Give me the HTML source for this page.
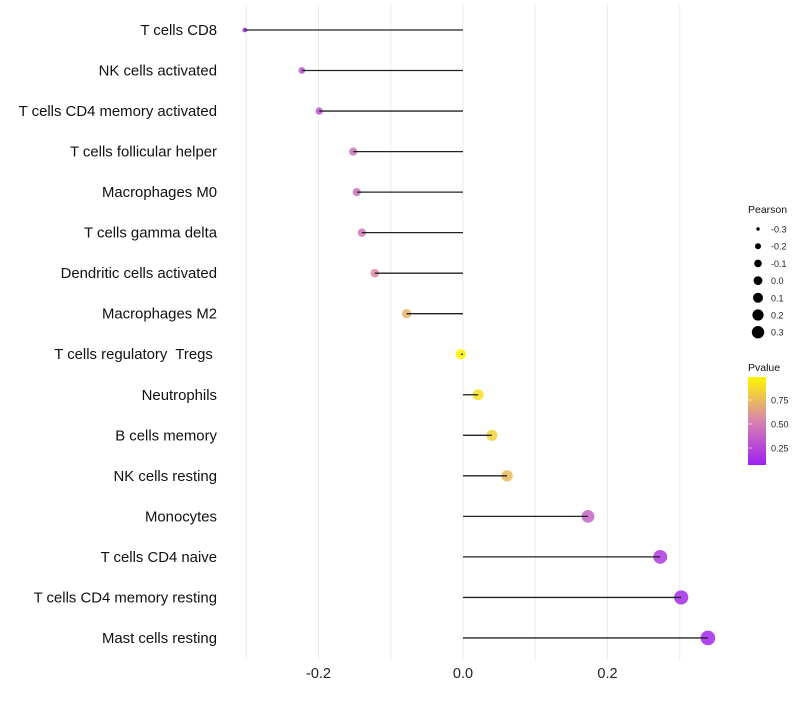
<!DOCTYPE html>
<html><head><meta charset="utf-8"><style>
body{margin:0;background:#fff;font-family:"Liberation Sans",sans-serif}
</style></head><body>
<svg id="chart" width="800" height="700" xmlns="http://www.w3.org/2000/svg" font-family="Liberation Sans, sans-serif">
<defs><linearGradient id="pg" x1="0" y1="1" x2="0" y2="0">
<stop offset="0" stop-color="#A020F0"/><stop offset="0.5" stop-color="#D883B0"/><stop offset="1" stop-color="#FFF700"/></linearGradient></defs>
<g id="grid"></g><g id="marks"></g><g id="labels"></g><g id="legend"></g>
</svg>
<script>
const categories=["T cells CD8","NK cells activated","T cells CD4 memory activated","T cells follicular helper","Macrophages M0","T cells gamma delta","Dendritic cells activated","Macrophages M2","T cells regulatory  Tregs ","Neutrophils","B cells memory","NK cells resting","Monocytes","T cells CD4 naive","T cells CD4 memory resting","Mast cells resting"];
const pearson=[-0.302,-0.223,-0.199,-0.152,-0.147,-0.140,-0.122,-0.078,-0.003,0.021,0.040,0.061,0.173,0.273,0.302,0.339];
const pvalue=[0.1,0.3,0.3,0.45,0.45,0.47,0.55,0.72,0.98,0.9,0.85,0.75,0.38,0.18,0.12,0.1];
const xTicks=[-0.2,0.0,0.2];
const xTickLabels=["-0.2","0.0","0.2"];
const gridVals=[-0.3,-0.2,-0.1,0,0.1,0.2,0.3];
const sizeLegend=[-0.3,-0.2,-0.1,0.0,0.1,0.2,0.3];
const sizeLegendLabels=["-0.3","-0.2","-0.1","0.0","0.1","0.2","0.3"];
const pLegend=[0.75,0.5,0.25];
const pLegendLabels=["0.75","0.50","0.25"];
const NS="http://www.w3.org/2000/svg";
const x=v=>463+v*722.5;
const y=i=>30+i*40.53;
const r=v=>Math.sqrt(5+(53.3-5)*Math.max(0,(v+0.31))/0.65);
function lerp(a,b,t){return a.map((c,i)=>Math.round(c+(b[i]-c)*t));}
function col(p){const lo=[160,32,240],mid=[216,131,176],hi=[255,247,0];
 const t=Math.min(1,Math.max(0,(p-0.07)/0.92));
 const c=t<0.5?lerp(lo,mid,t*2):lerp(mid,hi,(t-0.5)*2);return `rgb(${c})`;}
function mk(tag,attrs,parent,txt){const e=document.createElementNS(NS,tag);for(const k in attrs)e.setAttribute(k,attrs[k]);if(txt!=null)e.textContent=txt;document.getElementById(parent).appendChild(e);return e;}
gridVals.forEach(v=>{const e=mk('line',{x1:x(v),x2:x(v),y1:5,y2:660,stroke:'#ebebeb','stroke-width':1},'grid');

});
categories.forEach((c,i)=>{
 const t=mk('text',{x:217,y:y(i)+5,'text-anchor':'end','font-size':14.9,fill:'#111','xml:space':'preserve'},'labels',c);
 t.style.whiteSpace='pre';
 
 
 const ci=mk('circle',{cx:x(pearson[i]),cy:y(i),r:r(pearson[i]),fill:col(pvalue[i]),'fill-opacity':0.85},'marks');
 
 
});
categories.forEach((c,i)=>{
 const l=mk('line',{x1:x(0),x2:x(pearson[i]),y1:y(i),y2:y(i),stroke:'#222','stroke-width':1.3},'marks');
 
 
});
xTicks.forEach((v,i)=>{const t=mk('text',{x:x(v),y:678,'text-anchor':'middle','font-size':14.5,fill:'#222'},'labels',xTickLabels[i]);

});
let e=mk('text',{x:748,y:213,'font-size':10.5,fill:'#111'},'legend','Pearson');


sizeLegend.forEach((v,i)=>{const cy=229+i*17.2;
 const c=mk('circle',{cx:758,cy:cy,r:[1.7,3,3.8,4.4,5,5.6,6.2][i],fill:'#000'},'legend');
 
 
 const t=mk('text',{x:771,y:cy+3.5,'font-size':9,fill:'#222'},'legend',sizeLegendLabels[i]);
 
 });
e=mk('text',{x:748,y:371,'font-size':10.5,fill:'#111'},'legend','Pvalue');


e=mk('rect',{x:748,y:377,width:18,height:88,fill:'url(#pg)'},'legend');


pLegend.forEach((v,i)=>{const yy=400+i*24;
 const tk=mk('line',{x1:748,x2:752,y1:yy,y2:yy,stroke:'#fff','stroke-opacity':0.6},'legend');
 
 
 const t=mk('text',{x:771,y:yy+3.5,'font-size':9,fill:'#222'},'legend',pLegendLabels[i]);
 
 });
</script>
</body></html>
